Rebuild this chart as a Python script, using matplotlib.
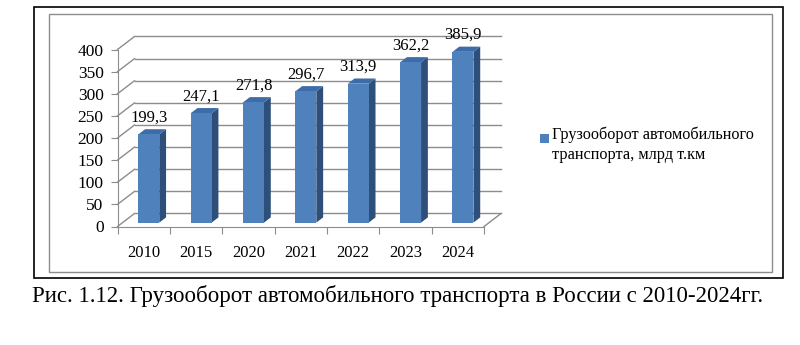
import matplotlib.pyplot as plt
from matplotlib.patches import Polygon, Rectangle

years = ["2010", "2015", "2020", "2021", "2022", "2023", "2024"]
values = [199.3, 247.1, 271.8, 296.7, 313.9, 362.2, 385.9]
labels = ["199,3", "247,1", "271,8", "296,7", "313,9", "362,2", "385,9"]
yticks = [0, 50, 100, 150, 200, 250, 300, 350, 400]
legend_text = "Грузооборот автомобильного\nтранспорта, млрд т.км"
caption = "Рис. 1.12. Грузооборот автомобильного транспорта в России с 2010-2024гг."

plt.rcParams["font.family"] = ["Liberation Serif", "DejaVu Serif"]

W, H = 800, 345
fig = plt.figure(figsize=(W / 100, H / 100), dpi=100)

# outer and inner frames
fig.patches.append(Rectangle((34 / W, 1 - 278 / H), 749 / W, 271 / H, transform=fig.transFigure,
                             fill=False, edgecolor="black", lw=1.2))
fig.patches.append(Rectangle((49 / W, 1 - 272 / H), 723 / W, 258 / H, transform=fig.transFigure,
                             fill=False, edgecolor="#8c8c8c", lw=1.0))

# axes placed so that x=-0.5..7.0 and y=0..440 map onto the plot region
ax = fig.add_axes([117.5 / W, 1 - 226.5 / H, 392.7 / W, 194.7 / H])
ax.set_xlim(-0.5, 7.0)
ax.set_ylim(0, 440)
ax.patch.set_visible(False)

n = len(years)
dx, dy = 0.325, 29.4       # depth offset of the 3D walls
grid_c = "#8c8c8c"

# walls: diagonals on the side wall and horizontal lines on the back wall
for v in yticks:
    ax.plot([-0.5, -0.5 + dx], [v, v + dy], color=grid_c, lw=1, clip_on=False)
    ax.plot([-0.5 + dx, n - 0.5 + dx], [v + dy, v + dy], color=grid_c, lw=1, clip_on=False)
# floor right edge
ax.plot([n - 0.5, n - 0.5 + dx], [0, dy], color=grid_c, lw=1, clip_on=False)

# bars
f0, fd = 0.3, 0.4
bw = 0.40
front_c, side_c, top_c = "#4F81BD", "#2E4F7A", "#3E6CA8"
for i, v in enumerate(values):
    x0 = i - bw / 2 + f0 * dx
    x1 = x0 + bw
    y0 = f0 * dy
    y1 = v + f0 * dy
    ax.add_patch(Polygon([(x1, y0), (x1 + fd * dx, y0 + fd * dy), (x1 + fd * dx, y1 + fd * dy), (x1, y1)],
                         closed=True, facecolor=side_c, edgecolor="none", zorder=3))
    ax.add_patch(Polygon([(x0, y1), (x1, y1), (x1 + fd * dx, y1 + fd * dy), (x0 + fd * dx, y1 + fd * dy)],
                         closed=True, facecolor=top_c, edgecolor="none", zorder=3))
    ax.add_patch(Rectangle((x0, y0), bw, v, facecolor=front_c, edgecolor="none", zorder=4))
    ax.text((x0 + x1) / 2, y1 + 20, labels[i], ha="center", va="bottom", fontsize=12, zorder=5)

# axes lines and ticks
for s in ["top", "right"]:
    ax.spines[s].set_visible(False)
ax.spines["left"].set_color(grid_c)
ax.spines["left"].set_bounds(0, 400)
ax.spines["bottom"].set_color(grid_c)
ax.spines["bottom"].set_bounds(-0.5, n - 0.5)
ax.set_yticks(yticks)
ax.set_yticklabels([str(t) for t in yticks], fontsize=12.5)
ax.tick_params(axis="y", length=5, color=grid_c, pad=5)
ax.set_xticks([i - 0.5 for i in range(n + 1)])
ax.set_xticklabels([])
ax.tick_params(axis="x", which="major", length=5, color=grid_c)
ax.set_xticks(range(n), minor=True)
ax.set_xticklabels(years, minor=True, fontsize=12)
ax.tick_params(axis="x", which="minor", length=0, pad=13)

# legend
fig.patches.append(Rectangle((540 / W, 1 - 143 / H), 9 / W, 9 / H, transform=fig.transFigure,
                             facecolor=front_c, edgecolor="none"))
fig.text(552 / W, 1 - 127 / H, legend_text, ha="left", va="top", fontsize=11.7, linespacing=1.3)

fig.text(398 / W, 1 - 296 / H, caption, ha="center", va="center", fontsize=16.5)

fig.savefig("out.png", dpi=100)
